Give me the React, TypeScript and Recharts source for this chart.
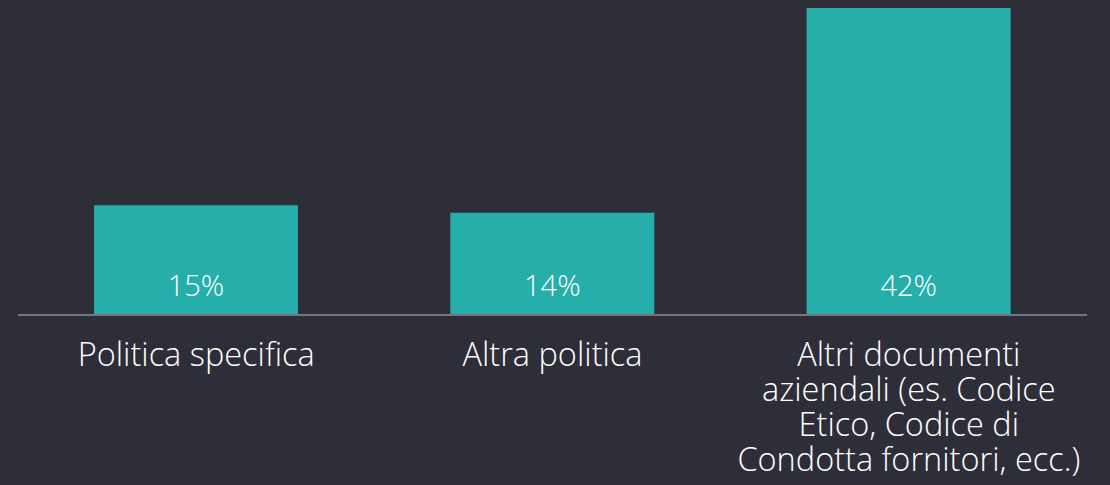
import { BarChart, Bar, XAxis, YAxis, LabelList } from 'recharts';

const categories = [
  'Politica specifica',
  'Altra politica',
  'Altri documenti\naziendali (es. Codice\nEtico, Codice di\nCondotta fornitori, ecc.)',
];
const shares = [15, 14, 42];

const data = categories.map((name, i) => ({ name, value: shares[i] }));

const FONT = '"Open Sans", "Noto Sans", sans-serif';

const CategoryTick = (props: any) => {
  const { x, y, payload } = props;
  const lines = String(payload.value).split('\n');
  return (
    <g>
      {lines.map((line, i) => (
        <text
          key={i}
          x={x}
          y={y + 43 + i * 35}
          textAnchor="middle"
          fill="#ffffff"
          fontSize={32.5}
          fontWeight={300}
          fontFamily={FONT}
        >
          {line}
        </text>
      ))}
    </g>
  );
};

const ValueLabel = (props: any) => {
  const { x, y, width, height, value } = props;
  return (
    <text
      x={x + width / 2}
      y={y + height - 19}
      textAnchor="middle"
      fill="#ffffff"
      fontSize={29}
      fontWeight={300}
      fontFamily={FONT}
    >
      {value}%
    </text>
  );
};

export default function App() {
  return (
    <div style={{ width: 1110, height: 485, background: '#2e2e38' }}>
      <style>{'body{margin:0;background:#2e2e38;}'}</style>
      <BarChart
        width={1110}
        height={485}
        data={data}
        margin={{ top: 8, right: 23, left: 18, bottom: 0 }}
        barCategoryGap={76}
      >
        <XAxis
          dataKey="name"
          height={170}
          axisLine={{ stroke: '#75757f', strokeWidth: 2 }}
          tickLine={false}
          interval={0}
          tick={<CategoryTick />}
        />
        <YAxis hide domain={[0, 42]} />
        <Bar dataKey="value" fill="#26aeab" isAnimationActive={false}>
          <LabelList dataKey="value" content={<ValueLabel />} />
        </Bar>
      </BarChart>
    </div>
  );
}
